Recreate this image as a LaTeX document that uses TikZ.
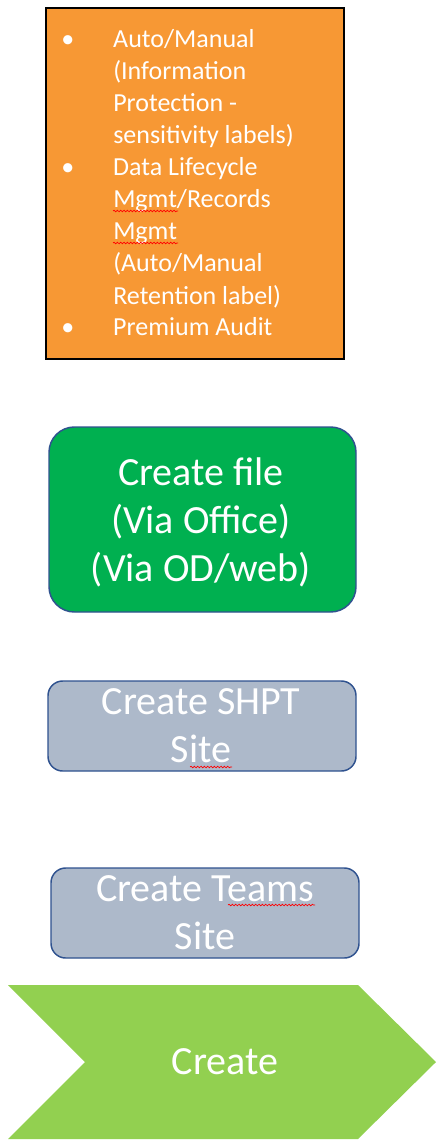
\documentclass[tikz,border=0pt]{standalone}
\usepackage{fontspec}
\setmainfont{Carlito}
\usetikzlibrary{positioning, decorations.pathmorphing}

\definecolor{ruleorange}{RGB}{247,152,52}
\definecolor{filegreen}{RGB}{0,176,80}
\definecolor{sitegrey}{RGB}{173,185,202}
\definecolor{edgeblue}{RGB}{47,82,143}
\definecolor{stagegreen}{RGB}{146,208,80}

\newcommand{\bul}{\llap{\makebox[39pt][l]{\textbullet}}}

\begin{document}
\begin{tikzpicture}[x=0.75pt, y=-0.75pt,
  sitebox/.style={draw=edgeblue, line width=1.1pt, fill=sitegrey, rounded corners=11pt,
    minimum width=231pt, minimum height=67.5pt, inner sep=0pt},
  boxtext/.style={text=white, font=\fontsize{30}{36}\selectfont, align=center,
    anchor=base, inner sep=0pt},
  spellmark/.style={draw=red, line width=0.5pt, decorate,
    decoration={snake, segment length=2.5pt, amplitude=0.6pt}}]
  \useasboundingbox (0,0) rectangle (448,1144);
  % Policies box (base anchor = last line)
  \node[draw, line width=2pt, fill=ruleorange, minimum width=223.5pt,
    minimum height=263.25pt, inner sep=0pt] (rules) at (195,183.5) {};
  \node[anchor=base west, text=white, font=\fontsize{19.5}{24}\selectfont,
    align=left, inner sep=0pt] (rulelist) at (113,336)
    {\bul Auto/Manual\\ (Information\\ Protection -\\ sensitivity labels)\\
     \bul Data Lifecycle\\ Mgmt/Records\\ Mgmt\\ (Auto/Manual\\ Retention label)\\
     \bul Premium Audit};
  \draw[spellmark] (113,211) -- (178,211);
  \draw[spellmark] (113,243) -- (178,243);
  % Create file
  \node[draw=edgeblue, line width=1.1pt, fill=filegreen, rounded corners=19pt,
    minimum width=230.25pt, minimum height=138.75pt, inner sep=0pt] (newfile) at (202.5,519.5) {};
  \node[boxtext] (newfiletext) at (201,581) {Create file\\(Via Office)\\(Via OD/web)};
  % Sites
  \node[sitebox] (shpt) at (202,726) {};
  \node[boxtext] (shpttext) at (201,762) {Create SHPT\\Site};
  \draw[spellmark] (190,767) -- (232,767);
  \node[sitebox] (teams) at (205,913) {};
  \node[boxtext] (teamstext) at (205,949) {Create Teams\\Site};
  \draw[spellmark] (228,905) -- (315,905);
  % Stage chevron
  \fill[stagegreen] (8,985) -- (358,985) -- (436,1062) -- (358,1139) -- (8,1139) -- (85,1062) -- cycle;
  \node[boxtext] (stage) at (225,1074) {Create};
\end{tikzpicture}
\end{document}
